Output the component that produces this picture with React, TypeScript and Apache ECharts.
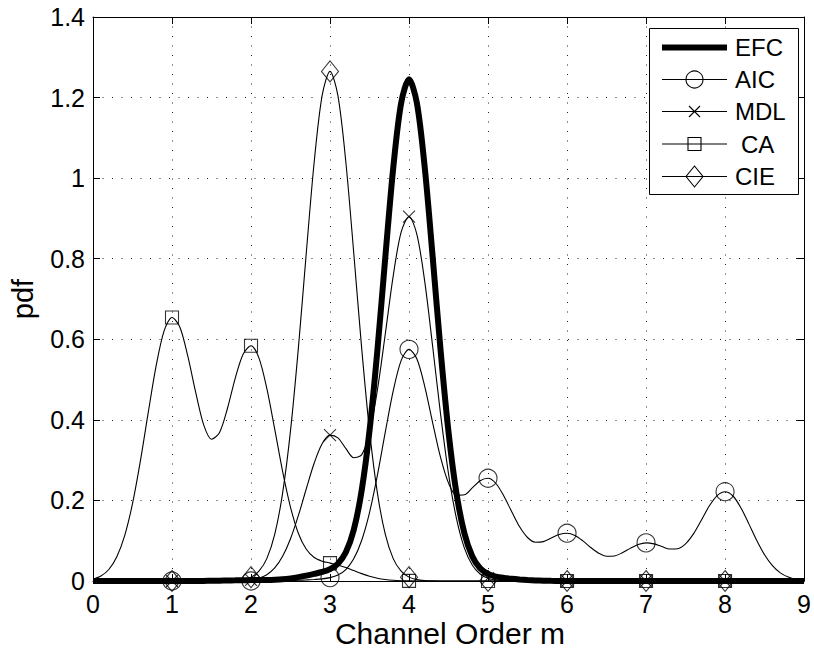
import React, { useEffect, useRef } from "react";
import * as echarts from "echarts";

// Sampling grid of the curves: x = index * STEP, from 0 to 9
const STEP = 0.1;
const X_MIN = 0;
const X_MAX = 9;
const Y_MIN = 0;
const Y_MAX = 1.4;
const Y_INTERVAL = 0.2;
const MARKER_X = [1, 2, 3, 4, 5, 6, 7, 8];
const SERIES_NAMES = ["EFC", "AIC", "MDL", "CA", "CIE"];
const X_TITLE = "Channel Order m";
const Y_TITLE = "pdf";

const EFC = [
  0, 0, 0, 0, 0, 0, 0, 0, 0, 0,
  0, 0, 0.0001, 0.0002, 0.0003, 0.0006, 0.0009, 0.0013, 0.0016, 0.002,
  0.0022, 0.0023, 0.0025, 0.0031, 0.0043, 0.0065, 0.0096, 0.0134, 0.0177, 0.0224,
  0.0295, 0.0429, 0.0712, 0.1267, 0.2238, 0.3732, 0.5735, 0.8041, 1.025, 1.1861,
  1.2453, 1.186, 1.0245, 0.803, 0.5715, 0.3697, 0.2183, 0.119, 0.0613, 0.0315,
  0.0175, 0.011, 0.0077, 0.0055, 0.0038, 0.0024, 0.0014, 0.0007, 0.0004, 0.0002,
  0.0001, 0, 0, 0, 0, 0, 0, 0, 0, 0,
  0, 0, 0, 0, 0, 0, 0, 0, 0, 0,
  0, 0, 0, 0, 0, 0, 0, 0, 0, 0,
  0,
];

const AIC = [
  0, 0, 0, 0, 0, 0, 0, 0, 0, 0,
  0, 0, 0, 0, 0, 0, 0, 0, 0, 0,
  0, 0, 0.0002, 0.0004, 0.0007, 0.0012, 0.0019, 0.0027, 0.0038, 0.0053,
  0.0084, 0.0148, 0.0285, 0.055, 0.1006, 0.17, 0.263, 0.37, 0.472, 0.547,
  0.575, 0.551, 0.482, 0.392, 0.306, 0.243, 0.213, 0.214, 0.231, 0.249,
  0.255, 0.242, 0.211, 0.172, 0.1345, 0.108, 0.0962, 0.0977, 0.1065, 0.1155,
  0.1186, 0.113, 0.0996, 0.0832, 0.069, 0.0613, 0.0621, 0.07, 0.081, 0.0904,
  0.0946, 0.0921, 0.0855, 0.0795, 0.0802, 0.0923, 0.117, 0.151, 0.186, 0.212,
  0.2217, 0.211, 0.182, 0.1424, 0.1012, 0.0652, 0.0381, 0.0202, 0.0097, 0.0042,
  0.0017,
];

const MDL = [
  0, 0, 0, 0, 0, 0, 0, 0, 0, 0,
  0, 0, 0, 0, 0, 0, 0, 0.0001, 0.0003, 0.001,
  0.0027, 0.0068, 0.0156, 0.0324, 0.0612, 0.1047, 0.1627, 0.229, 0.2928, 0.3405,
  0.362, 0.3554, 0.329, 0.306, 0.313, 0.368, 0.4742, 0.6137, 0.7576, 0.8659,
  0.9047, 0.86, 0.742, 0.581, 0.413, 0.266, 0.1555, 0.0824, 0.0396, 0.0173,
  0.0069, 0.0024, 0.0008, 0.0002, 0, 0, 0, 0, 0, 0,
  0, 0, 0, 0, 0, 0, 0, 0, 0, 0,
  0, 0, 0, 0, 0, 0, 0, 0, 0, 0,
  0, 0, 0, 0, 0, 0, 0, 0, 0, 0,
  0,
];

const CA = [
  0.005, 0.0125, 0.0285, 0.0594, 0.112, 0.192, 0.298, 0.419, 0.535, 0.621,
  0.654, 0.63, 0.558, 0.468, 0.388, 0.352, 0.368, 0.427, 0.503, 0.563,
  0.584, 0.554, 0.478, 0.377, 0.272, 0.183, 0.118, 0.0787, 0.0583, 0.0492,
  0.0444, 0.0397, 0.0334, 0.0258, 0.0183, 0.0118, 0.0069, 0.0037, 0.0018, 0.0008,
  0.0003, 0, 0, 0, 0, 0, 0, 0, 0, 0,
  0, 0, 0, 0, 0, 0, 0, 0, 0, 0,
  0, 0, 0, 0, 0, 0, 0, 0, 0, 0,
  0, 0, 0, 0, 0, 0, 0, 0, 0, 0,
  0, 0, 0, 0, 0, 0, 0, 0, 0, 0,
  0,
];

const CIE = [
  0, 0, 0, 0, 0, 0, 0, 0, 0, 0,
  0, 0, 0, 0, 0, 0, 0, 0.0003, 0.0011, 0.0034,
  0.0096, 0.0243, 0.0555, 0.1156, 0.2181, 0.3732, 0.5792, 0.8152, 1.0406, 1.2047,
  1.265, 1.2047, 1.0406, 0.8152, 0.5792, 0.3732, 0.2181, 0.1156, 0.0555, 0.0243,
  0.0096, 0.0034, 0.0011, 0.0003, 0, 0, 0, 0, 0, 0,
  0, 0, 0, 0, 0, 0, 0, 0, 0, 0,
  0, 0, 0, 0, 0, 0, 0, 0, 0, 0,
  0, 0, 0, 0, 0, 0, 0, 0, 0, 0,
  0, 0, 0, 0, 0, 0, 0, 0, 0, 0,
  0,
];

const FONT = '"Liberation Sans", Arial, Helvetica, sans-serif';
const CROSS = "path://M0,0L10,10M10,0L0,10";

const pairs = (vals: number[]) =>
  vals.map((v, i) => [Number((i * STEP).toFixed(1)), v]);
const markerPoints = (vals: number[]) =>
  MARKER_X.map((x) => [x, vals[Math.round(x / STEP)]]);

const lineSeries = (name: string, vals: number[], width: number) => ({
  type: "line",
  name,
  data: pairs(vals),
  symbol: "none",
  showSymbol: false,
  smooth: 0.3,
  silent: true,
  lineStyle: { color: "#000", width },
  itemStyle: { color: "#000" },
  z: 2,
});

const markerSeries = (name: string, vals: number[], symbol: string, size: any) => ({
  type: "scatter",
  name: name + " markers",
  data: markerPoints(vals),
  symbol,
  symbolSize: size,
  silent: true,
  itemStyle: { color: "rgba(0,0,0,0)", borderColor: "#000", borderWidth: 1.1 },
  z: 3,
});

const axisCommon = {
  axisLine: { show: true, onZero: false, lineStyle: { color: "#000", width: 1 } },
  axisTick: { show: true, inside: true, length: 7, lineStyle: { color: "#000", width: 1 } },
};

const gridLine = { show: true, lineStyle: { color: "#222", width: 1, type: [1, 8.5] } };

function buildLegend() {
  const rows = [47.5, 79.5, 111.5, 144, 176.5];
  const x1 = 662;
  const x2 = 727;
  const cx = (x1 + x2) / 2;
  const els: any[] = [
    {
      type: "rect",
      z: 100,
      shape: { x: 649.5, y: 28.5, width: 149, height: 166 },
      style: { fill: "#fff", stroke: "#000", lineWidth: 1 },
    },
  ];
  const stroke = { stroke: "#000", lineWidth: 1.1, fill: "none" };
  SERIES_NAMES.forEach((name, i) => {
    const y = rows[i];
    els.push({
      type: "line",
      z: 101,
      shape: { x1, y1: y, x2, y2: y },
      style: { stroke: "#000", lineWidth: i === 0 ? 6 : 1.1 },
    });
    if (name === "AIC") {
      els.push({ type: "circle", z: 102, shape: { cx, cy: y, r: 8.5 }, style: stroke });
    } else if (name === "MDL") {
      els.push({ type: "line", z: 102, shape: { x1: cx - 5.5, y1: y - 5.5, x2: cx + 5.5, y2: y + 5.5 }, style: stroke });
      els.push({ type: "line", z: 102, shape: { x1: cx - 5.5, y1: y + 5.5, x2: cx + 5.5, y2: y - 5.5 }, style: stroke });
    } else if (name === "CA") {
      els.push({ type: "rect", z: 102, shape: { x: cx - 6.5, y: y - 6.5, width: 13, height: 13 }, style: stroke });
    } else if (name === "CIE") {
      els.push({
        type: "polygon",
        z: 102,
        shape: { points: [[cx, y - 10.5], [cx + 8.5, y], [cx, y + 10.5], [cx - 8.5, y]] },
        style: stroke,
      });
    }
    els.push({
      type: "text",
      z: 103,
      x: name === "CA" ? 741 : 735,
      y,
      style: {
        text: name,
        fill: "#000",
        fontSize: 24,
        fontFamily: FONT,
        align: "left",
        verticalAlign: "middle",
      },
    });
  });
  return els;
}

export default function App() {
  const ref = useRef<HTMLDivElement>(null);

  useEffect(() => {
    if (!ref.current) return;
    const chart = echarts.init(ref.current, null, { renderer: "svg" });
    const option: any = {
      animation: false,
      backgroundColor: "#fff",
      grid: { left: 93, right: 5, top: 17, bottom: 67, containLabel: false },
      xAxis: [
        {
          type: "value",
          min: X_MIN,
          max: X_MAX,
          interval: 1,
          position: "bottom",
          ...axisCommon,
          axisLabel: { color: "#000", fontSize: 25, lineHeight: 24, fontFamily: FONT, margin: 11 },
          splitLine: gridLine,
        },
        {
          type: "value",
          min: X_MIN,
          max: X_MAX,
          interval: 1,
          position: "top",
          ...axisCommon,
          axisLabel: { show: false },
          splitLine: { show: false },
        },
      ],
      yAxis: [
        {
          type: "value",
          min: Y_MIN,
          max: Y_MAX,
          interval: Y_INTERVAL,
          position: "left",
          ...axisCommon,
          axisLabel: { color: "#000", fontSize: 25, fontFamily: FONT, margin: 8 },
          splitLine: gridLine,
        },
        {
          type: "value",
          min: Y_MIN,
          max: Y_MAX,
          interval: Y_INTERVAL,
          position: "right",
          ...axisCommon,
          axisLabel: { show: false },
          splitLine: { show: false },
        },
      ],
      series: [
        lineSeries("EFC", EFC, 6),
        lineSeries("AIC", AIC, 1.1),
        lineSeries("MDL", MDL, 1.1),
        lineSeries("CA", CA, 1.1),
        lineSeries("CIE", CIE, 1.1),
        markerSeries("AIC", AIC, "circle", 18),
        markerSeries("MDL", MDL, CROSS, 12),
        markerSeries("CA", CA, "rect", 13),
        markerSeries("CIE", CIE, "diamond", [17, 21]),
      ],
      graphic: [
        ...buildLegend(),
        {
          type: "text",
          z: 50,
          x: 450,
          y: 633,
          style: {
            text: X_TITLE,
            fill: "#000",
            fontSize: 30,
            lineHeight: 26,
            fontFamily: FONT,
            align: "center",
            verticalAlign: "middle",
          },
        },
        {
          type: "text",
          z: 50,
          x: 23,
          y: 299,
          rotation: Math.PI / 2,
          style: {
            text: Y_TITLE,
            fill: "#000",
            fontSize: 29,
            fontFamily: FONT,
            align: "center",
            verticalAlign: "middle",
          },
        },
      ],
    };
    chart.setOption(option);
    return () => chart.dispose();
  }, []);

  return (
    <div
      ref={ref}
      style={{ position: "fixed", left: 0, top: 0, width: 814, height: 648, background: "#fff" }}
    />
  );
}
